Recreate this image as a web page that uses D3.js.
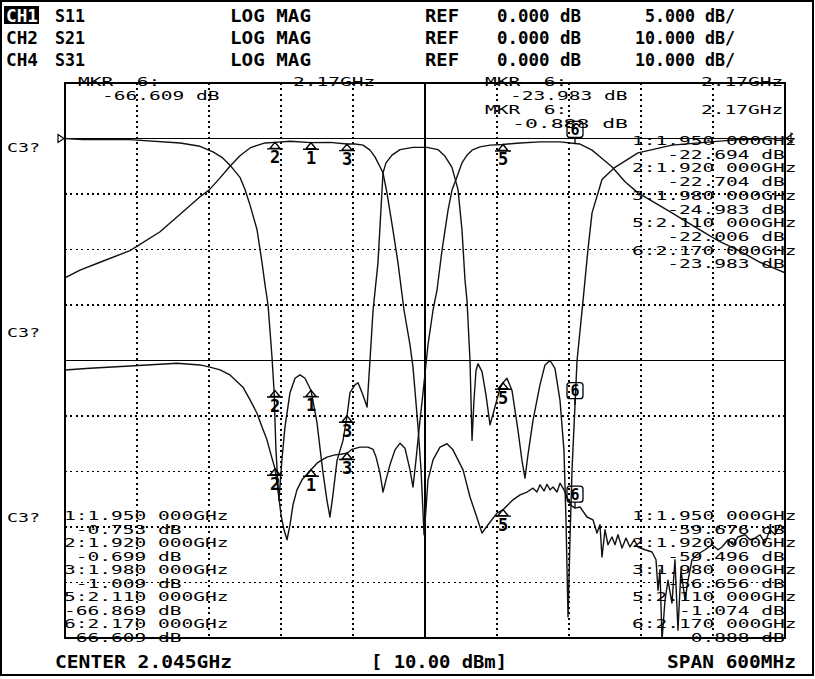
<!DOCTYPE html>
<html><head><meta charset="utf-8">
<script src="https://cdn.jsdelivr.net/npm/d3@7"></script>
<style>body{margin:0;background:#fff}</style>
</head><body>
<svg id="c" width="815" height="679"></svg>
<script>
// ---------- DATA ----------
const startMHz = 1745, stopMHz = 2345;           // CENTER 2.045GHz, SPAN 600MHz
const gridFreqs = [1805,1865,1925,1985,2045,2105,2165,2225,2285];
const gridDB = [0,-10,-20,-30,-40,-50,-60,-70,-80];   // divisions (10 dB/div scale)

// CH1 S11 (5 dB/div) [MHz, dB]
const s11 = [[1745,0],[1760,-0.1],[1799,-0.1],[1841,-0.4],[1857.5,-0.7],[1868.3,-1.2],[1875.8,-1.7],[1882.5,-2.4],[1890.8,-3.5],[1895,-4.6],[1899.2,-6.0],[1905,-8.2],[1909.2,-11.2],[1911.7,-13.2],[1914.2,-15.0],[1917.5,-19.7],[1919.2,-22.7],[1920.8,-28.1],[1922.5,-31.2],[1923.3,-32.6],[1924.2,-31.2],[1925.8,-28.9],[1928.3,-26.0],[1932.5,-22.9],[1936.7,-21.6],[1940.8,-21.3],[1945,-21.6],[1950,-22.7],[1955,-25.6],[1957.5,-27.9],[1960,-30.1],[1963.3,-32.6],[1965.8,-34.1],[1968.3,-32.1],[1971.7,-29.0],[1976.7,-27.2],[1980,-25.0],[1982.5,-22.9],[1986.7,-22.2],[1989.2,-22.0],[1993.3,-23.1],[1996.7,-24.2],[1999.2,-19.9],[2001.7,-15.5],[2005.8,-11.2],[2008.3,-6.4],[2010,-3.1],[2012.5,-2.2],[2017.5,-1.5],[2024.2,-1.0],[2035,-0.8],[2046.7,-0.8],[2055.8,-1.0],[2061.7,-1.6],[2067.5,-2.6],[2072.5,-4.6],[2075.8,-8.2],[2078.3,-12.7],[2080,-14.6],[2082.5,-20.0],[2084.2,-27.2],[2085.8,-23.6],[2087.5,-20.9],[2089.2,-20.3],[2092.5,-21.0],[2095.8,-23.1],[2099.2,-25.8],[2102.5,-24.5],[2107.5,-22.5],[2110,-22.0],[2113.3,-21.6],[2117.5,-22.7],[2122.5,-26.3],[2125.8,-29.0],[2128.3,-30.6],[2130.8,-28.5],[2135,-25.4],[2140.8,-22.2],[2145,-20.4],[2149.2,-20.0],[2153.3,-20.7],[2157.5,-23.6],[2160.8,-28.1],[2162.5,-34.4],[2164.2,-43.1],[2165.8,-36.2],[2167.5,-29.9],[2170,-24.0],[2171.7,-20.0],[2176.7,-14.6],[2180.8,-10.0],[2184.2,-6.7],[2192.5,-3.7],[2203.3,-2.6],[2222.5,-1.3],[2250.8,-0.6],[2305.8,-0.1],[2345,0]];

// CH2 S21 (10 dB/div)
const s21 = [[1745,-25.1],[1757.5,-23.7],[1774.2,-22.3],[1799.2,-20.2],[1824.2,-16.8],[1845,-12.9],[1857.5,-10.5],[1865,-9.3],[1874.2,-7.1],[1882.5,-5.0],[1890.8,-3.1],[1899.2,-1.7],[1905.8,-1.2],[1911.7,-0.8],[1920,-0.7],[1932.5,-0.5],[1950,-0.75],[1965.8,-0.7],[1980,-1.0],[1986.7,-1.0],[1993.3,-1.2],[1999.2,-2.1],[2003.3,-3.3],[2007.5,-5.1],[2010,-6.2],[2013.3,-9.8],[2018.3,-16.5],[2022.5,-22.4],[2027.5,-30.9],[2032.5,-37.2],[2035,-41.2],[2039.2,-52.0],[2041.7,-59.7],[2044.2,-71.4],[2045.8,-66.9],[2047.5,-61.5],[2051.7,-57.9],[2057.5,-55.6],[2063.3,-55.0],[2068.3,-56.1],[2076.7,-59.7],[2082.5,-64.6],[2087.5,-67.8],[2092.5,-71.1],[2097.5,-69.6],[2105,-67.5],[2110,-66.9],[2118.3,-65.1],[2124.2,-64.2],[2130,-63.7],[2135,-63.0],[2138.3,-63.7],[2140.8,-62.4],[2144.2,-63.5],[2146.7,-62.3],[2149.2,-63.3],[2151.7,-62.8],[2155,-63.7],[2157.5,-62.1],[2160.8,-63.3],[2163.3,-64.6],[2166.7,-66.1],[2170,-66.6],[2174.2,-66.4],[2180,-68.2],[2185,-68.7],[2188.3,-71.1],[2190.8,-69.6],[2192.5,-75.4],[2195,-70.5],[2197.5,-73.2],[2200.8,-71.8],[2203.3,-73.2],[2205.8,-71.4],[2209.2,-73.8],[2212.5,-72.0],[2215.8,-73.6],[2219.2,-72.3],[2222.5,-73.6],[2228.3,-74.1],[2234.2,-74.5],[2237.5,-75.9],[2239.2,-81.4],[2240.8,-77.7],[2242.5,-90.4],[2245,-83.2],[2247.5,-79.6],[2250.8,-83.7],[2253.3,-75.9],[2255.8,-88.6],[2258.3,-77.7],[2261.7,-83.2],[2264.2,-79.6],[2267.5,-75.9],[2271.7,-75.0],[2278.3,-74.1],[2284.2,-73.2],[2289.2,-74.1],[2292.5,-73.6],[2297.5,-72.3],[2301.7,-73.2],[2305.8,-71.8],[2311.7,-71.4],[2315.8,-72.3],[2320,-72.0],[2324.2,-71.4],[2328.3,-72.9],[2332.5,-70.5],[2336.7,-71.4],[2340.8,-69.6],[2345,-70.5]];

// CH4 S31 (10 dB/div)
const s31 = [[1745,-41.7],[1765.8,-41.4],[1799.2,-41.0],[1838.3,-40.5],[1857.5,-40.8],[1865.8,-41.2],[1874.2,-41.7],[1882.5,-42.6],[1893.3,-44.8],[1899.2,-47.1],[1905,-49.5],[1909.2,-52.0],[1913.3,-54.3],[1916.7,-57.0],[1920,-59.5],[1922.5,-63.3],[1925,-67.8],[1927.5,-70.5],[1930,-72.3],[1932.5,-69.6],[1935,-66.0],[1938.3,-63.3],[1942.5,-61.5],[1946.7,-60.5],[1950,-59.7],[1955,-58.5],[1959.2,-57.9],[1963.3,-57.4],[1970,-57.0],[1975,-56.9],[1980,-56.7],[1984.2,-56.0],[1990.8,-55.6],[1997.5,-55.6],[2001.7,-56.0],[2004.2,-57.4],[2007.5,-60.3],[2010,-63.7],[2012.5,-61.5],[2015.8,-58.8],[2020,-56.1],[2024.2,-54.9],[2028.3,-55.8],[2032.5,-59.7],[2035,-62.8],[2037.5,-57.9],[2040,-52.5],[2043.3,-45.9],[2047.5,-37.2],[2051.7,-30.9],[2055,-27.3],[2059.2,-20.1],[2064.2,-12.9],[2067.5,-9.3],[2071.7,-6.9],[2075.8,-4.4],[2080,-3.0],[2084.2,-2.1],[2090.8,-1.5],[2099.2,-1.2],[2110,-1.07],[2124.2,-0.8],[2140.8,-0.6],[2157.5,-0.6],[2170,-0.89],[2174.2,-1.0],[2184.2,-2.1],[2190.8,-3.3],[2200.8,-5.1],[2211.7,-7.8],[2222.5,-9.8],[2236.7,-11.6],[2250.8,-13.4],[2265.8,-15.4],[2278.3,-17.0],[2290.8,-18.6],[2305.8,-20.1],[2324.2,-22.3],[2345,-24.2]];

// markers
const markerIds = [1,2,3,5,6];
const markerMHz = [1950,1920,1980,2110,2170];
const s11Mk = [-22.694,-22.704,-24.983,-22.006,-23.983];
const s21Mk = [-0.753,-0.699,-1.009,-66.869,-66.609];
const s31Mk = [-59.676,-59.496,-56.656,-1.074,-0.888];

// header rows
const chNames = ["CH1","CH2","CH4"];
const params = ["S11","S21","S31"];
const formats = ["LOG MAG","LOG MAG","LOG MAG"];
const refVals = ["0.000 dB","0.000 dB","0.000 dB"];
const scales = ["5.000 dB/","10.000 dB/","10.000 dB/"];

// ---------- DRAW ----------
const W=815,H=679;
const svg=d3.select('#c');
svg.append('rect').attr('width',W).attr('height',H).attr('fill','#fff');
svg.append('rect').attr('x',1).attr('y',1).attr('width',W-3).attr('height',H-5)
  .attr('fill','none').attr('stroke','#000').attr('stroke-width',2);

const L=65,R=785,T=83,B=638,DIV=(B-T)/10;
const x=d3.scaleLinear().domain([startMHz,stopMHz]).range([L,R]);
const y10=d3.scaleLinear().domain([0,-10]).range([T+DIV,T+2*DIV]);
const y5=d3.scaleLinear().domain([0,-5]).range([T+DIV,T+2*DIV]);

const FONT="'DejaVu Sans Mono', monospace";
function mono(g,xx,yy,s,size,len,weight,anchor){
  const t=g.append('text').attr('x',xx).attr('y',yy).attr('font-family',FONT)
   .attr('font-size',size).attr('font-weight',weight||'normal').attr('fill','#000')
   .style('white-space','pre').text(s);
  if(len) t.attr('textLength',len).attr('lengthAdjust','spacingAndGlyphs');
  if(anchor) t.attr('text-anchor',anchor);
  return t;
}
// column text: leading spaces shift start
function col(g,x0,yy,s,pitch,size){
  const lead=s.length-s.trimStart().length; const tr=s.trim();
  return mono(g,x0+lead*pitch,yy,tr,size||13,tr.length*pitch);
}

// grid
const grid=svg.append('g').attr('shape-rendering','crispEdges');
gridFreqs.forEach(f=>{
  const solid = f===2045;
  grid.append('line').attr('x1',x(f)).attr('x2',x(f)).attr('y1',T).attr('y2',B)
   .attr('stroke','#000').attr('stroke-width',solid?1.2:1.8)
   .attr('stroke-dasharray',solid?null:'2,3.4');
});
gridDB.forEach(v=>{
  const solid = v===0 || v===-40;
  grid.append('line').attr('x1',L).attr('x2',R).attr('y1',y10(v)).attr('y2',y10(v))
   .attr('stroke','#000').attr('stroke-width',solid?1.2:1.8)
   .attr('stroke-dasharray',solid?null:'2,3.4');
});
grid.append('rect').attr('x',L).attr('y',T).attr('width',R-L).attr('height',B-T)
  .attr('fill','none').attr('stroke','#000').attr('stroke-width',1.4);

// ref pointers
svg.append('path').attr('d',`M${L-7},${y10(0)-4} L${L-1},${y10(0)} L${L-7},${y10(0)+4} Z`)
  .attr('fill','none').attr('stroke','#000').attr('stroke-width',1.2);
svg.append('path').attr('d',`M${R+8},${y10(0)-5} L${R+1},${y10(0)} L${R+8},${y10(0)+4} M${R+6},${y10(0)-6} L${R+6},${y10(0)+6}`)
  .attr('fill','none').attr('stroke','#000').attr('stroke-width',1.2);

// traces
svg.append('clipPath').attr('id','pc').append('rect').attr('x',L).attr('y',T).attr('width',R-L).attr('height',B-T);
const tg=svg.append('g').attr('clip-path','url(#pc)');
const mk=(ys)=>d3.line().x(d=>x(d[0])).y(d=>ys(d[1]));
[[s11,y5],[s21,y10],[s31,y10]].forEach(([d,ys])=>{
  tg.append('path').attr('d',mk(ys)(d)).attr('fill','none').attr('stroke','#111')
    .attr('stroke-width',1.4).attr('stroke-linejoin','round');
});

// marker symbols
const mg=svg.append('g');
function tri(cx,cy,id){
  mg.append('path').attr('d',`M${cx},${cy} L${cx-5},${cy+6} L${cx+5},${cy+6} Z M${cx-8},${cy+6.5} L${cx+8},${cy+6.5}`)
    .attr('fill','none').attr('stroke','#000').attr('stroke-width',1.4);
  mono(mg,cx,cy+21,String(id),17,null,'bold','middle');
}
function box(cx,cy,id){
  mg.append('rect').attr('x',cx-8).attr('y',cy-22).attr('width',16).attr('height',16).attr('rx',3)
    .attr('fill','none').attr('stroke','#000').attr('stroke-width',1.3);
  mg.append('line').attr('x1',cx).attr('x2',cx).attr('y1',cy-6).attr('y2',cy).attr('stroke','#000').attr('stroke-width',1.3);
  mono(mg,cx,cy-8.5,String(id),15,null,'bold','middle');
}
[[s11Mk,y5],[s21Mk,y10],[s31Mk,y10]].forEach(([vals,ys])=>{
  vals.forEach((v,i)=>{
    const cx=x(markerMHz[i]), cy=ys(v);
    if(markerIds[i]===6) box(cx,cy,markerIds[i]); else tri(cx,cy,markerIds[i]);
  });
});

// marker lists
const P=11.75;
const fLine=(i)=>`${markerIds[i]}:${(markerMHz[i]/1000).toFixed(3)} 000GHz`;
const vLine=(v)=>v.toFixed(3).padStart(7)+' dB';
const lg=svg.append('g');
s11Mk.forEach((v,i)=>{
  col(lg,632,145+27.4*i,fLine(i),P);
  col(lg,632,158.7+27.4*i,'   '+vLine(v),P);
});
s21Mk.forEach((v,i)=>{
  col(lg,64,520+27*i,fLine(i),P);
  col(lg,64,533.5+27*i,vLine(v),P);
});
s31Mk.forEach((v,i)=>{
  col(lg,632,520+27*i,fLine(i),P);
  col(lg,632,533.5+27*i,'   '+vLine(v),P);
});

// active marker readouts (marker 6)
const i6=markerIds.indexOf(6);
const fGHz=(markerMHz[i6]/1000).toFixed(2)+'GHz';
col(lg,78,86,'MKR  6:',P); col(lg,293,86,fGHz,P);
col(lg,102,99.5,vLine(s21Mk[i6]).trim(),P);
col(lg,485,86,'MKR  6:',P); col(lg,701,86,fGHz,P);
col(lg,510,100,vLine(s11Mk[i6]).trim(),P);
col(lg,485,114,'MKR  6:',P); col(lg,701,114,fGHz,P);
mono(lg,512,128,vLine(s31Mk[i6]).trim(),13,116);

// C3? labels
[152,337,522].forEach(yy=>mono(svg,7,yy,'C3?',13,33));

// header
const hg=svg.append('g');
hg.append('rect').attr('x',4).attr('y',6).attr('width',35).attr('height',18).attr('fill','#000');
chNames.forEach((c,i)=>{
  const yy=22+22*i;
  mono(hg,6,yy,c,17,32,'bold').attr('fill',i===0?'#fff':'#000');
  mono(hg,55,yy,params[i],17,30,'bold');
  mono(hg,230,yy,formats[i],17,81,'bold');
  mono(hg,425,yy,'REF',17,34,'bold');
  mono(hg,497,yy,refVals[i],17,84,'bold');
  const s=scales[i];
  mono(hg,735-s.length*10,yy,s,17,s.length*10,'bold');
});

// footer
mono(svg,55,668,'CENTER 2.045GHz',17,177,'bold');
mono(svg,371,668,'[ 10.00 dBm]',17,136,'bold');
mono(svg,667,668,'SPAN 600MHz',17,129,'bold');
</script>
</body></html>
